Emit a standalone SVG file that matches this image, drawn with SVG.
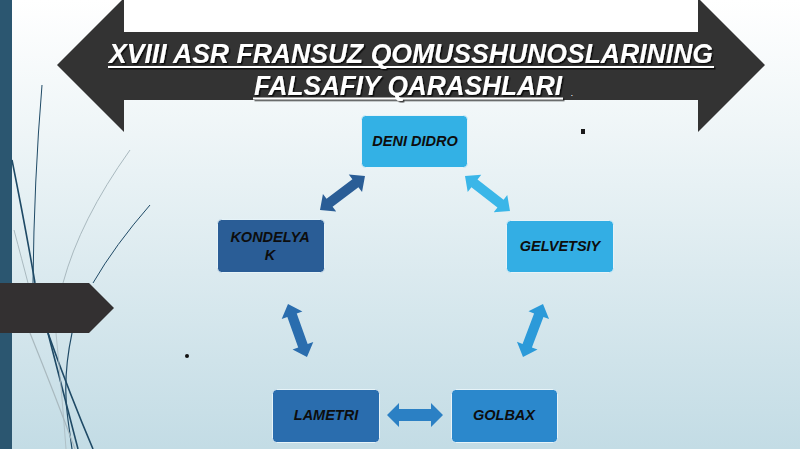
<svg xmlns="http://www.w3.org/2000/svg" width="800" height="449" viewBox="0 0 800 449">
<defs>
<linearGradient id="bg" x1="0" y1="0" x2="0" y2="1">
<stop offset="0" stop-color="#ffffff"/>
<stop offset="0.3" stop-color="#eef5f7"/>
<stop offset="1" stop-color="#c3dce5"/>
</linearGradient>
<filter id="sh" x="-5%" y="-20%" width="110%" height="150%">
<feDropShadow dx="1.5" dy="1.5" stdDeviation="0.6" flood-color="#000000" flood-opacity="0.75"/>
</filter>
<style>
.title{font-family:"Liberation Sans",Arial,sans-serif;font-size:27px;font-weight:bold;font-style:italic;fill:#ffffff;text-anchor:middle;}
.ul{stroke:#ffffff;stroke-width:2;}
.lbl{font-family:"Liberation Sans",Arial,sans-serif;font-size:14.5px;font-weight:bold;font-style:italic;fill:#0d0d0d;text-anchor:middle;}
.node{stroke:#e6f3f8;stroke-width:1;}
.curve{fill:none;stroke:#1f4a66;}
.gray{fill:none;stroke:#a9b9bf;}
</style>
</defs>
<rect x="0" y="0" width="800" height="449" fill="url(#bg)"/>
<g id="decor">
<rect x="0" y="0" width="12" height="449" fill="#2b5670"/>
<path class="curve" stroke-width="1.6" d="M12,160 Q26,230 35,283 L78,449"/>
<path class="curve" stroke-width="1" d="M42,85 Q34,180 33,283"/>
<path class="gray" stroke-width="1" d="M130,150 Q80,220 63,283"/>
<path class="curve" stroke-width="1" d="M150,205 Q115,245 93,283"/>
<path class="gray" stroke-width="1" d="M14,230 Q22,260 28,283"/>
<path class="curve" stroke-width="1.6" d="M48,333 Q70,395 93,449"/>
<path class="curve" stroke-width="1.2" d="M72,333 Q62,380 68,420 L72,449"/>
<path class="gray" stroke-width="1.2" d="M30,333 Q55,395 75,449"/>
<path class="gray" stroke-width="0.8" d="M56,333 Q62,395 66,449"/>
<polygon points="0,283 89,283 114,308 89,333 0,333" fill="#333031"/>
<rect x="185" y="354" width="4" height="4" rx="2" fill="#111"/>
<rect x="581" y="129" width="4" height="5" fill="#1a1a1a"/>
</g>
<g id="title">
<rect x="124" y="0" width="574" height="33" fill="#ffffff"/>
<polygon points="57,65 124,-2 124,32 698,32 698,-2 765,65 698,132 698,100 124,100 124,132" fill="#333333"/>
<g filter="url(#sh)">
<line class="ul" x1="108" y1="67" x2="714" y2="67"/>
<line class="ul" x1="253" y1="98.5" x2="563" y2="98.5"/>
<text class="title" x="411" y="63" textLength="604" lengthAdjust="spacingAndGlyphs">XVIII ASR FRANSUZ QOMUSSHUNOSLARINING</text>
<text class="title" x="408" y="95" textLength="308" lengthAdjust="spacingAndGlyphs">FALSAFIY QARASHLARI</text>
</g>
<text x="571" y="96" font-family="Liberation Sans,Arial,sans-serif" font-size="9" font-style="italic" fill="#ffffff">.</text>
</g>
<g id="connectors">
<polygon transform="translate(320,210) rotate(-37.1)" points="0,0 12,-11 12,-5 44.4,-5 44.4,-11 56.4,0 44.4,11 44.4,5 12,5 12,11" fill="#2a5d96"/>
<polygon transform="translate(465,176) rotate(37.9)" points="0,0 12,-11 12,-5 45,-5 45,-11 57,0 45,11 45,5 12,5 12,11" fill="#3ab6e8"/>
<polygon transform="translate(288,304) rotate(70.3)" points="0,0 12,-11 12,-5 44.3,-5 44.3,-11 56.3,0 44.3,11 44.3,5 12,5 12,11" fill="#2a6dae"/>
<polygon transform="translate(543,304) rotate(110.7)" points="0,0 12,-11 12,-5 44.6,-5 44.6,-11 56.6,0 44.6,11 44.6,5 12,5 12,11" fill="#2b9ad9"/>
<polygon transform="translate(387,415)" points="0,0 12,-12 12,-6 44,-6 44,-12 56,0 44,12 44,6 12,6 12,12" fill="#2b80c4"/>
</g>
<g id="deni">
<rect class="node" x="361.5" y="115.5" width="106" height="52" rx="4" fill="#33b1e5"/>
<text class="lbl" x="415" y="146">DENI DIDRO</text>
</g>
<g id="kondelyak">
<rect class="node" x="217.5" y="219.5" width="107" height="53" rx="4" fill="#2a5d96"/>
<text class="lbl" x="270" y="242">KONDELYA</text>
<text class="lbl" x="270" y="260">K</text>
</g>
<g id="gelvetsiy">
<rect class="node" x="506.5" y="220.5" width="107" height="52" rx="4" fill="#33aee4"/>
<text class="lbl" x="560" y="251">GELVETSIY</text>
</g>
<g id="lametri">
<rect class="node" x="272.5" y="389.5" width="107" height="53" rx="4" fill="#2a6dae"/>
<text class="lbl" x="326" y="420">LAMETRI</text>
</g>
<g id="golbax">
<rect class="node" x="451.5" y="389.5" width="106" height="53" rx="4" fill="#2b88cc"/>
<text class="lbl" x="504" y="420">GOLBAX</text>
</g>
</svg>
